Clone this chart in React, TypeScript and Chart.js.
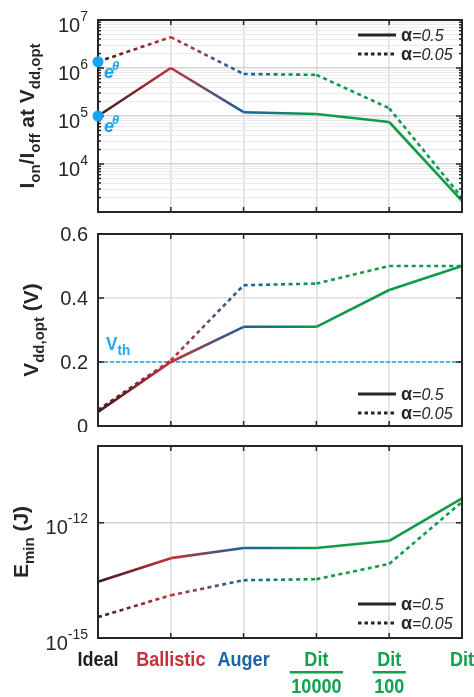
import React, { useEffect, useRef } from 'react';
import { Chart, registerables } from 'chart.js';

Chart.register(...registerables);

// ---------- data ----------
const categories = ['Ideal', 'Ballistic', 'Auger', 'Dit/10000', 'Dit/100', 'Dit'];
const labelColors = ['#1f1f1f', '#c6313b', '#1a64a3', '#13a04f', '#13a04f', '#13a04f'];
const lineColors = ['#3a1c21', '#c4313a', '#1a5f9f', '#0f9b4a', '#0f9b4a', '#0f9b4a'];

const ratioAlpha05 = [1.0e5, 1.0e6, 1.2e5, 1.1e5, 7.5e4, 1.7e3];
const ratioAlpha005 = [1.35e6, 4.4e6, 7.5e5, 7.2e5, 1.45e5, 2.0e3];

const vddAlpha05 = [0.044, 0.2, 0.31, 0.31, 0.425, 0.5];
const vddAlpha005 = [0.05, 0.205, 0.44, 0.445, 0.5, 0.5];
const vthLine = [0.2, 0.2, 0.2, 0.2, 0.2, 0.2];

const eminAlpha05 = [2.9e-14, 1.2e-13, 2.2e-13, 2.2e-13, 3.4e-13, 4.3e-12];
const eminAlpha005 = [3.5e-15, 1.3e-14, 3.2e-14, 3.4e-14, 8.5e-14, 3.5e-12];

const ratioDecades = [1e3, 1e4, 1e5, 1e6, 1e7];
const ratioMinorSteps = [2, 3, 4, 5, 6, 7, 8, 9];
const ratioTickLabels = [1e4, 1e5, 1e6, 1e7];
const vddTicks = [0, 0.2, 0.4, 0.6];
const vddTickLabels = ['0', '0.2', '0.4', '0.6'];
const eminTicks = [1e-15, 1e-12];
const eminTickLabels = [1e-15, 1e-12];

const legendLabels = ['0.5', '0.05'];

// ---------- styles ----------
const FONT = '"Liberation Sans", Arial, Helvetica, sans-serif';
const AXIS = '#262626';
const MARK = '#16a4ee';
const W = 474;

type Seg = { t: string; f: string; dy?: number };

function drawSegs(ctx: CanvasRenderingContext2D, segs: Seg[], x: number, y: number, align: string, color: string, sx = 1, rotate = false) {
  ctx.save();
  ctx.fillStyle = color;
  ctx.textBaseline = 'alphabetic';
  ctx.textAlign = 'left';
  let total = 0;
  const widths = segs.map((s) => {
    ctx.font = s.f;
    const w = ctx.measureText(s.t).width;
    total += w;
    return w;
  });
  ctx.translate(x, y);
  if (rotate) ctx.rotate(-Math.PI / 2);
  ctx.scale(sx, 1);
  let cx = align === 'left' ? 0 : align === 'center' ? -total / 2 : -total;
  segs.forEach((s, i) => {
    ctx.font = s.f;
    ctx.fillText(s.t, cx, s.dy || 0);
    cx += widths[i];
  });
  ctx.restore();
  return total * sx;
}

const segColor = (c: any) => {
  const g = c.chart.ctx.createLinearGradient(c.p0.x, 0, c.p1.x, 0);
  g.addColorStop(0, lineColors[c.p0DataIndex]);
  g.addColorStop(1, lineColors[c.p1DataIndex]);
  return g;
};

function series(data: number[], dashed: boolean) {
  return {
    data,
    borderWidth: 2.6,
    borderColor: lineColors[0],
    borderDash: dashed ? [4, 3.5] : [],
    segment: { borderColor: segColor },
    pointRadius: 0,
    pointHoverRadius: 0,
    tension: 0,
    clip: false as any,
  };
}

interface PanelDef {
  top: number;
  height: number;
  pad: { top: number; bottom: number };
  log: boolean;
  min: number;
  max: number;
  ticks: { value: number; major: boolean }[];
  tickLabels: { value: number; text: string; exp?: string }[];
  datasets: any[];
  title: Seg[];
  titleX: number;
  legendRows: number[];
  markers?: boolean;
  vth?: boolean;
  xLabels?: boolean;
}

const ratioTicks: { value: number; major: boolean }[] = [];
ratioDecades.forEach((d, i) => {
  ratioTicks.push({ value: d, major: true });
  if (i < ratioDecades.length - 1) ratioMinorSteps.forEach((m) => ratioTicks.push({ value: m * d, major: false }));
});

const T_BIG = `bold 21px ${FONT}`;
const T_SUB = `bold 15px ${FONT}`;

const panels: PanelDef[] = [
  {
    top: 0,
    height: 220,
    pad: { top: 20, bottom: 8 },
    log: true,
    min: 1e3,
    max: 1e7,
    ticks: ratioTicks,
    tickLabels: ratioTickLabels.map((v) => ({ value: v, text: '10', exp: String(Math.round(Math.log10(v))) })),
    datasets: [series(ratioAlpha05, false), series(ratioAlpha005, true)],
    title: [
      { t: 'I', f: T_BIG },
      { t: 'on', f: T_SUB, dy: 6 },
      { t: '/I', f: T_BIG },
      { t: 'off', f: T_SUB, dy: 6 },
      { t: ' at V', f: T_BIG },
      { t: 'dd,opt', f: T_SUB, dy: 6 },
    ],
    titleX: 34,
    legendRows: [15, 34],
    markers: true,
  },
  {
    top: 220,
    height: 212,
    pad: { top: 14, bottom: 6 },
    log: false,
    min: 0,
    max: 0.6,
    ticks: vddTicks.map((v) => ({ value: v, major: true })),
    tickLabels: vddTicks.map((v, i) => ({ value: v, text: vddTickLabels[i] })),
    datasets: [
      series(vddAlpha05, false),
      series(vddAlpha005, true),
      {
        data: vthLine,
        borderColor: '#1ea8f0',
        borderWidth: 1.6,
        borderDash: [4, 2],
        pointRadius: 0,
        clip: false as any,
      },
    ],
    title: [
      { t: 'V', f: T_BIG },
      { t: 'dd,opt', f: T_SUB, dy: 6 },
      { t: ' (V)', f: T_BIG },
    ],
    titleX: 38,
    legendRows: [-32, -13],
    vth: true,
  },
  {
    top: 432,
    height: 265,
    pad: { top: 14, bottom: 59 },
    log: true,
    min: 1e-15,
    max: 1e-10,
    ticks: eminTicks.map((v) => ({ value: v, major: true })),
    tickLabels: eminTickLabels.map((v) => ({ value: v, text: '10', exp: String(Math.round(Math.log10(v))) })),
    datasets: [series(eminAlpha05, false), series(eminAlpha005, true)],
    title: [
      { t: 'E', f: T_BIG },
      { t: 'min', f: T_SUB, dy: 6 },
      { t: ' (J)', f: T_BIG },
    ],
    titleX: 28,
    legendRows: [-34, -15],
    xLabels: true,
  },
];

function makeDecor(def: PanelDef) {
  return {
    id: 'decor',
    afterDraw(chart: any) {
      const { ctx, chartArea: a, scales } = chart;
      const xs = scales.x;
      const ys = scales.y;
      ctx.save();

      // box
      ctx.strokeStyle = AXIS;
      ctx.lineWidth = 2;
      ctx.strokeRect(a.left, a.top, a.right - a.left, a.bottom - a.top);

      // inward ticks x
      ctx.lineWidth = 1.5;
      categories.forEach((_, i) => {
        const px = xs.getPixelForValue(i);
        ctx.beginPath();
        ctx.moveTo(px, a.bottom);
        ctx.lineTo(px, a.bottom - 5);
        ctx.moveTo(px, a.top);
        ctx.lineTo(px, a.top + 5);
        ctx.stroke();
      });
      // inward ticks y
      def.ticks.forEach((t) => {
        const py = ys.getPixelForValue(t.value);
        const len = t.major ? 6 : 3;
        ctx.beginPath();
        ctx.moveTo(a.left, py);
        ctx.lineTo(a.left + len, py);
        ctx.moveTo(a.right, py);
        ctx.lineTo(a.right - len, py);
        ctx.stroke();
      });

      // y tick labels
      const tickFont = `20px ${FONT}`;
      const expFont = `14px ${FONT}`;
      def.tickLabels.forEach((tl) => {
        const py = ys.getPixelForValue(tl.value);
        if (tl.exp) {
          drawSegs(ctx, [
            { t: tl.text, f: tickFont, dy: 11.5 },
            { t: tl.exp, f: expFont, dy: 0.5 },
          ], 88, py, 'right', AXIS);
        } else {
          drawSegs(ctx, [{ t: tl.text, f: tickFont, dy: 7 }], 88, py, 'right', AXIS);
        }
      });

      // y title
      drawSegs(ctx, def.title, def.titleX, (a.top + a.bottom) / 2, 'center', AXIS, 1, true);

      // legend
      def.legendRows.forEach((off, i) => {
        const y = off >= 0 ? a.top + off : a.bottom + off;
        ctx.save();
        ctx.strokeStyle = AXIS;
        ctx.lineWidth = 3;
        ctx.setLineDash(i === 0 ? [] : [3.5, 3]);
        ctx.beginPath();
        ctx.moveTo(358, y);
        ctx.lineTo(396, y);
        ctx.stroke();
        ctx.restore();
        drawSegs(ctx, [
          { t: 'α', f: `bold 18px ${FONT}` },
          { t: '=' + legendLabels[i], f: `italic 16px ${FONT}` },
        ], 401, y + 6, 'left', AXIS);
      });

      // markers at the first point of each series, with labels
      if (def.markers) {
        chart.data.datasets.forEach((_: any, di: number) => {
          const meta = chart.getDatasetMeta(di);
          const p = meta.data[0];
          ctx.fillStyle = MARK;
          ctx.beginPath();
          ctx.arc(p.x, p.y, 5.5, 0, Math.PI * 2);
          ctx.fill();
          drawSegs(ctx, [{ t: 'e', f: `italic bold 19px ${FONT}` }], p.x + 6, p.y + 16, 'left', MARK, 0.95);
          drawSegs(ctx, [{ t: 'θ', f: `italic bold 13px ${FONT}` }], p.x + 14, p.y + 8, 'left', MARK);
        });
      }

      // Vth label
      if (def.vth) {
        const py = ys.getPixelForValue(vthLine[0]);
        drawSegs(ctx, [
          { t: 'V', f: `bold 19px ${FONT}` },
          { t: 'th', f: `bold 15px ${FONT}`, dy: 5 },
        ], 106, py - 12, 'left', '#1ea8f0', 0.9);
      }

      // x labels (below the bottom panel)
      if (def.xLabels) {
        const lf = `bold 21px ${FONT}`;
        categories.forEach((c, i) => {
          const px = xs.getPixelForValue(i);
          const col = labelColors[i];
          const parts = c.split('/');
          drawSegs(ctx, [{ t: parts[0], f: lf }], px, a.bottom + 28, 'center', col, 0.86);
          if (parts.length > 1) {
            const w = drawSegs(ctx, [{ t: parts[1], f: lf }], px, a.bottom + 55, 'center', col, 0.86);
            ctx.fillStyle = col;
            ctx.fillRect(px - w / 2 - 1.5, a.bottom + 33, w + 3, 2.5);
          }
        });
      }
      ctx.restore();
    },
  };
}

function makeConfig(def: PanelDef): any {
  return {
    type: 'line',
    data: { labels: categories, datasets: def.datasets },
    options: {
      responsive: false,
      animation: false,
      events: [],
      layout: { padding: { left: 0, right: 12, top: def.pad.top, bottom: def.pad.bottom } },
      plugins: { legend: { display: false }, tooltip: { enabled: false } },
      scales: {
        x: {
          type: 'category',
          offset: false,
          ticks: { display: false },
          grid: { color: '#dedede', lineWidth: 1.6, drawTicks: false },
          border: { display: false },
          afterFit: (s: any) => {
            s.height = 0;
          },
        },
        y: {
          type: def.log ? 'logarithmic' : 'linear',
          min: def.min,
          max: def.max,
          ticks: { display: false },
          grid: {
            drawTicks: false,
            color: (c: any) => {
              if (!def.log || !c.tick) return '#dedede';
              const l = Math.log10(c.tick.value);
              return Math.abs(l - Math.round(l)) < 1e-6 ? '#d4d4d4' : '#ebebeb';
            },
            lineWidth: (c: any) => {
              if (!def.log || !c.tick) return 1.6;
              const l = Math.log10(c.tick.value);
              return Math.abs(l - Math.round(l)) < 1e-6 ? 1.6 : 1;
            },
          },
          border: { display: false },
          afterBuildTicks: (s: any) => {
            s.ticks = def.ticks.map((t) => ({ value: t.value, major: t.major }));
          },
          afterFit: (s: any) => {
            s.width = 98;
          },
        },
      },
    },
    plugins: [makeDecor(def)],
  };
}

function Panel({ def }: { def: PanelDef }) {
  const ref = useRef<HTMLCanvasElement>(null);
  useEffect(() => {
    if (!ref.current) return;
    const chart = new Chart(ref.current, makeConfig(def));
    return () => chart.destroy();
  }, [def]);
  return (
    <canvas
      ref={ref}
      width={W}
      height={def.height}
      style={{ position: 'absolute', left: 0, top: def.top, width: W, height: def.height }}
    />
  );
}

export default function App() {
  return (
    <div style={{ position: 'absolute', left: 0, top: 0, width: W, height: 697, background: '#ffffff', overflow: 'hidden' }}>
      {panels.map((p, i) => (
        <Panel key={i} def={p} />
      ))}
    </div>
  );
}
